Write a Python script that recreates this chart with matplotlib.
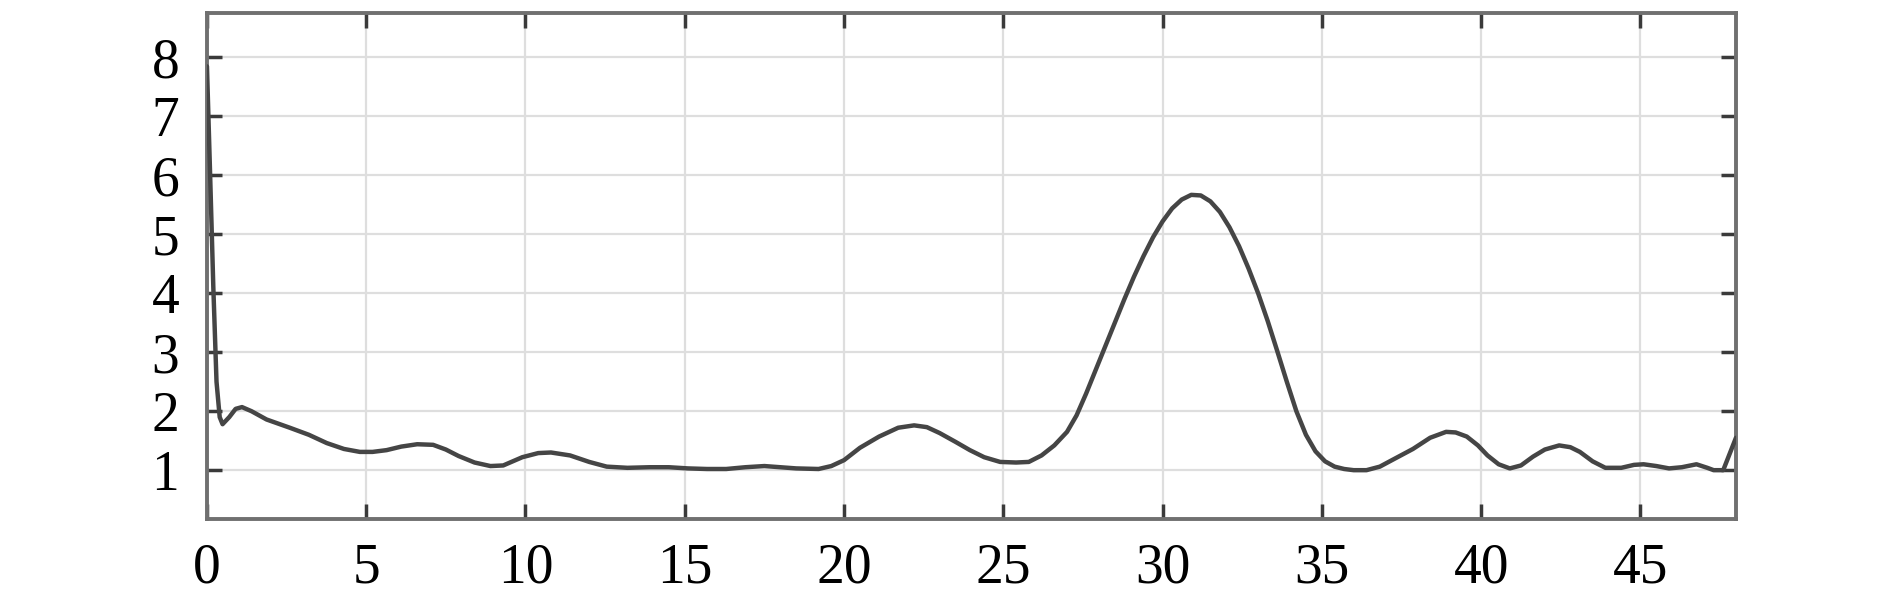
import numpy as np
import matplotlib
matplotlib.use("Agg")
import matplotlib.pyplot as plt

# values
x = [0.0, 0.1, 0.2, 0.3, 0.4, 0.49, 0.7, 0.9, 1.1, 1.4, 1.87, 2.6, 3.2, 3.76, 4.3, 4.8,
     5.2, 5.64, 6.1, 6.6, 7.1, 7.5, 7.9, 8.4, 8.9, 9.3, 9.9, 10.4, 10.8, 11.4, 12.0,
     12.55, 13.2, 13.9, 14.5, 15.1, 15.7, 16.3, 16.9, 17.5, 18.0, 18.5, 19.2, 19.6,
     20.0, 20.5, 21.1, 21.7, 22.2, 22.6, 23.0, 23.5, 23.95, 24.4, 24.9, 25.4, 25.8,
     26.2, 26.6, 27.0, 27.3, 27.6, 27.9, 28.2, 28.5, 28.8, 29.1, 29.4, 29.7, 30.0,
     30.3, 30.6, 30.9, 31.2, 31.5, 31.8, 32.1, 32.4, 32.7, 33.0, 33.3, 33.6, 33.9,
     34.2, 34.5, 34.8, 35.1, 35.4, 35.7, 36.0, 36.4, 36.82, 37.2, 37.86, 38.4, 38.9,
     39.2, 39.55, 39.9, 40.2, 40.55, 40.9, 41.25, 41.63, 42.0, 42.45, 42.8, 43.1,
     43.5, 43.9, 44.4, 44.8, 45.1, 45.5, 45.9, 46.3, 46.76, 47.1, 47.3, 47.6, 48.0]
y = [7.85, 6.0, 4.1, 2.5, 1.9, 1.78, 1.9, 2.04, 2.07, 2.0, 1.86, 1.72, 1.6, 1.46, 1.36, 1.31,
     1.31, 1.34, 1.4, 1.44, 1.43, 1.35, 1.24, 1.13, 1.07, 1.08, 1.22, 1.29, 1.30, 1.25, 1.14,
     1.06, 1.04, 1.05, 1.05, 1.03, 1.02, 1.02, 1.05, 1.07, 1.05, 1.03, 1.02, 1.07,
     1.17, 1.38, 1.57, 1.72, 1.76, 1.73, 1.63, 1.48, 1.34, 1.22, 1.14, 1.13, 1.14,
     1.25, 1.42, 1.65, 1.93, 2.3, 2.7, 3.1, 3.5, 3.9, 4.28, 4.63, 4.95, 5.22,
     5.44, 5.59, 5.67, 5.66, 5.56, 5.38, 5.12, 4.8, 4.42, 4.0, 3.53, 3.02, 2.5,
     2.0, 1.6, 1.32, 1.15, 1.06, 1.02, 1.0, 1.0, 1.06, 1.17, 1.36, 1.55, 1.65,
     1.64, 1.57, 1.42, 1.25, 1.1, 1.03, 1.08, 1.23, 1.35, 1.42, 1.39, 1.31,
     1.15, 1.04, 1.04, 1.09, 1.10, 1.07, 1.03, 1.05, 1.10, 1.04, 1.0, 1.0, 1.55]

xticks = [0, 5, 10, 15, 20, 25, 30, 35, 40, 45]
yticks = [1, 2, 3, 4, 5, 6, 7, 8]

plt.rcParams["font.family"] = ["Liberation Serif", "DejaVu Serif"]

fig = plt.figure(figsize=(18.9, 5.96), dpi=100)
ax = fig.add_axes([0.1095, 0.130, 0.809, 0.8487])

ax.plot(x, y, color="#454545", linewidth=3.2, zorder=3,
        solid_joinstyle="round", solid_capstyle="round")

ax.set_xlim(0, 48)
ax.set_ylim(0.18, 8.76)
ax.set_xticks(xticks)
ax.set_yticks(yticks)

ax.grid(True, color="#dedede", linewidth=1.6)
ax.set_axisbelow(True)

for s in ax.spines.values():
    s.set_color("#707070")
    s.set_linewidth(2.8)

ax.tick_params(direction="in", length=11, width=2.5, color="#3a3a3a",
               top=True, right=True, labelsize=40, labelcolor="black")
ax.tick_params(axis="x", pad=17)
ax.tick_params(axis="y", pad=20)

fig.savefig("out.png", dpi=100)
